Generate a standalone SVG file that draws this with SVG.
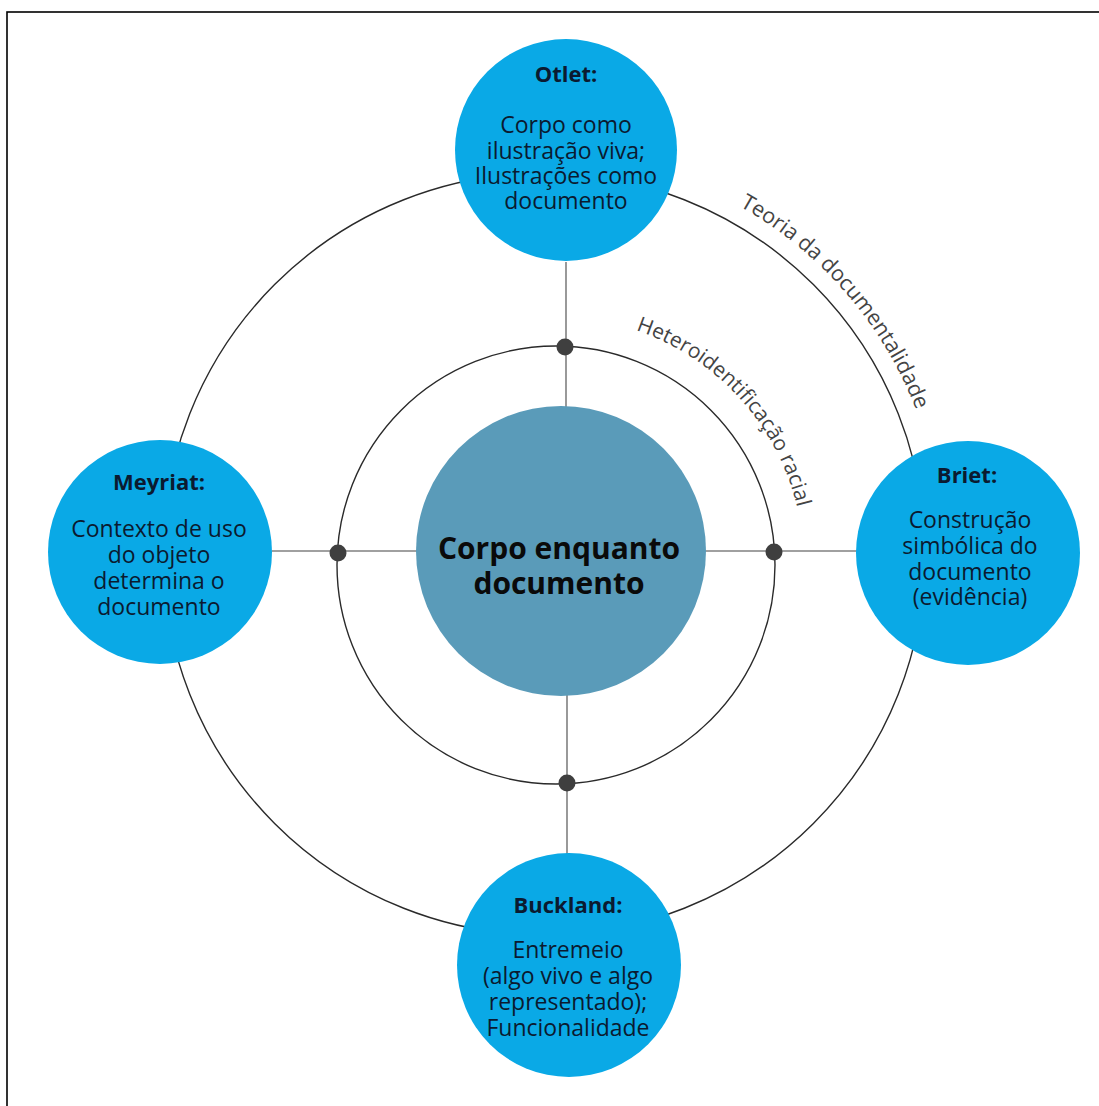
<svg xmlns="http://www.w3.org/2000/svg" width="1099" height="1106" viewBox="0 0 1099 1106">
  <style>
    .ring { fill: none; stroke: #2a2a2a; stroke-width: 1.4; }
    .conn { stroke: #808080; stroke-width: 1.6; fill: none; }
    .dot { fill: #3f3f3f; }
    .node { fill: #0aa9e6; }
    .core { fill: #5a9bb9; }
    .title { font-family: "Open Sans", "Noto Sans", sans-serif; font-weight: bold; font-size: 22px; fill: #0b1a30; text-anchor: middle; }
    .body { font-family: "Open Sans", "Noto Sans", sans-serif; font-size: 23px; fill: #0b1a30; text-anchor: middle; }
    .coretext { font-family: "Open Sans", "Noto Sans", sans-serif; font-weight: bold; font-size: 30px; fill: #0a0a0a; text-anchor: middle; }
    .arclabel { font-family: "Open Sans", "Noto Sans", sans-serif; fill: #444; }
  </style>
  <defs>
    <path id="outerArc" d="M600.9,159.1 A399,399 0 0,1 943,554"/>
    <path id="innerArc" d="M578.9,318 A248,248 0 0,1 804,565"/>
  </defs>
  <rect x="7" y="12" width="1100" height="1110" fill="#fff" stroke="#000" stroke-width="1.6"/>

  <g id="rings">
    <circle class="ring" cx="544" cy="554" r="381"/>
    <circle class="ring" cx="556" cy="565" r="219"/>
  </g>

  <g id="connectors">
    <line class="conn" x1="566" y1="262" x2="566" y2="407"/>
    <line class="conn" x1="272" y1="551" x2="417" y2="551"/>
    <line class="conn" x1="705" y1="551" x2="857" y2="551"/>
    <line class="conn" x1="567" y1="695" x2="567" y2="854"/>
    <circle class="dot" cx="565" cy="347" r="8.5"/>
    <circle class="dot" cx="338" cy="553" r="8.5"/>
    <circle class="dot" cx="774" cy="552" r="8.5"/>
    <circle class="dot" cx="567" cy="783" r="8.5"/>
  </g>

  <g id="labels">
    <text class="arclabel" font-size="21.5"><textPath href="#outerArc" startOffset="50%" text-anchor="middle">Teoria da documentalidade</textPath></text>
    <text class="arclabel" font-size="21"><textPath href="#innerArc" startOffset="50%" text-anchor="middle">Heteroidentificação racial</textPath></text>
  </g>

  <g id="node-center">
    <circle class="core" cx="561" cy="551" r="145"/>
    <text class="coretext" x="559" y="559">Corpo enquanto</text>
    <text class="coretext" x="559" y="594">documento</text>
  </g>

  <g id="node-otlet">
    <circle class="node" cx="566" cy="150" r="111"/>
    <text class="title" x="566" y="82">Otlet:</text>
    <text class="body" x="566" y="133">Corpo como</text>
    <text class="body" x="566" y="159">ilustração viva;</text>
    <text class="body" x="566" y="184">Ilustrações como</text>
    <text class="body" x="566" y="209">documento</text>
  </g>

  <g id="node-meyriat">
    <circle class="node" cx="160" cy="552" r="112"/>
    <text class="title" x="159" y="490">Meyriat:</text>
    <text class="body" x="159" y="537">Contexto de uso</text>
    <text class="body" x="159" y="563">do objeto</text>
    <text class="body" x="159" y="589">determina o</text>
    <text class="body" x="159" y="615">documento</text>
  </g>

  <g id="node-briet">
    <circle class="node" cx="968" cy="553" r="112"/>
    <text class="title" x="967" y="483">Briet:</text>
    <text class="body" x="970" y="528">Construção</text>
    <text class="body" x="970" y="554">simbólica do</text>
    <text class="body" x="970" y="580">documento</text>
    <text class="body" x="970" y="605">(evidência)</text>
  </g>

  <g id="node-buckland">
    <circle class="node" cx="569" cy="965" r="112"/>
    <text class="title" x="568" y="913">Buckland:</text>
    <text class="body" x="568" y="958">Entremeio</text>
    <text class="body" x="568" y="984">(algo vivo e algo</text>
    <text class="body" x="568" y="1010">representado);</text>
    <text class="body" x="568" y="1036">Funcionalidade</text>
  </g>
</svg>
